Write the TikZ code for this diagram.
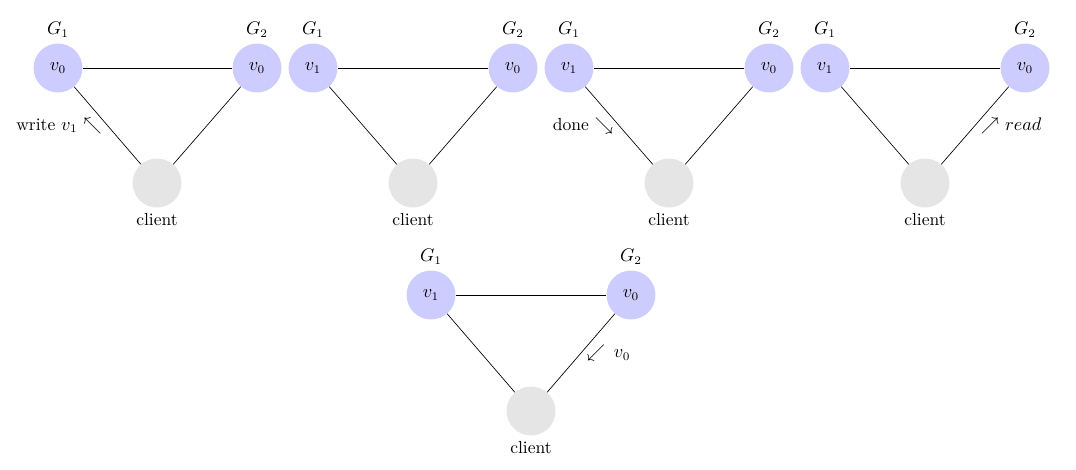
\documentclass[tikz,border=0pt]{standalone}
\usepackage{amssymb}
\usetikzlibrary{positioning}

\begin{document}
\begin{tikzpicture}[x=0.02105cm, y=-0.02105cm,
    every node/.style={font=\fontsize{10.5}{12.5}\selectfont},
    server/.style={circle, fill=blue!20, minimum size=1.03cm, inner sep=0pt},
    client/.style={circle, fill=black!10, minimum size=1.03cm, inner sep=0pt, label=below:client}]
    \useasboundingbox (0,0) rectangle (1076,469);

    % write
    \node (wa) [server, label=above:$G_1$] at (58,68) {$v_0$};
    \node (wb) [server, label=above:$G_2$] at (257,68) {$v_0$};
    \node (wc) [client] at (157,183) {};
    \draw (wa) -- (wb);
    \draw (wa) -- node[left] {write $v_1$ $\nwarrow$} (wc);
    \draw (wb) -- (wc);

    % replicated on G1
    \node (ra) [server, label=above:$G_1$] at (313,68) {$v_1$};
    \node (rb) [server, label=above:$G_2$] at (513,68) {$v_0$};
    \node (rc) [client] at (413,183) {};
    \draw (ra) -- (rb);
    \draw (ra) -- (rc);
    \draw (rb) -- (rc);

    % done
    \node (da) [server, label=above:$G_1$] at (569,68) {$v_1$};
    \node (db) [server, label=above:$G_2$] at (769,68) {$v_0$};
    \node (dc) [client] at (669,183) {};
    \draw (da) -- (db);
    \draw (da) -- node[left] {done $\searrow$} (dc);
    \draw (db) -- (dc);

    % read
    \node (qa) [server, label=above:$G_1$] at (825,68) {$v_1$};
    \node (qb) [server, label=above:$G_2$] at (1025,68) {$v_0$};
    \node (qc) [client] at (925,183) {};
    \draw (qa) -- (qb);
    \draw (qa) -- (qc);
    \draw (qb) -- node[right] {$\nearrow$ $read$} (qc);

    % answer
    \node (xa) [server, label=above:$G_1$] at (431,295) {$v_1$};
    \node (xb) [server, label=above:$G_2$] at (631,295) {$v_0$};
    \node (xc) [client] at (531,411) {};
    \draw (xa) -- (xb);
    \draw (xa) -- (xc);
    \draw (xb) -- node[right] {$\swarrow$\hspace{0.5em}$v_0$} (xc);
\end{tikzpicture}
\end{document}
